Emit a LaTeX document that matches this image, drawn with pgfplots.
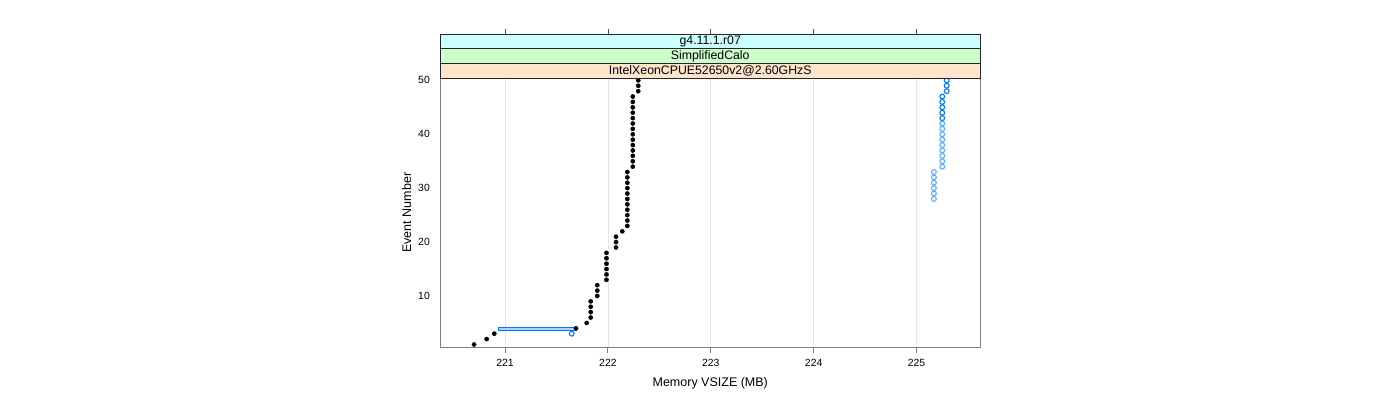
\documentclass[border=0pt]{standalone}
\usepackage{pgfplots}
\pgfplotsset{compat=1.18}
\usepackage{fontspec}
\setmainfont{Liberation Sans}
\definecolor{peach}{HTML}{FFE5CC}
\definecolor{mint}{HTML}{CCFFCC}
\definecolor{cyanstrip}{HTML}{CCFFFF}
\definecolor{dblue}{RGB}{0,120,255}
\definecolor{lblue}{RGB}{90,170,255}
\definecolor{boxblue}{RGB}{170,210,255}
\definecolor{axgrey}{RGB}{128,128,128}
\definecolor{gridgrey}{RGB}{230,230,230}
\begin{document}
\begin{tikzpicture}[x=1pt,y=1pt]
\path[use as bounding box] (0,0) rectangle (1400,400);
\begin{axis}[name=ax, at={(440pt,52.5pt)}, anchor=south west, scale only axis,
  width=540.5pt, height=269.5pt,
  xmin=220.368, xmax=225.622, ymin=0.44, ymax=50.44,
  xtick={221,222,223,224,225}, ytick={10,20,30,40,50},
  xtick pos=left, ytick pos=left,
  tick align=outside, major tick length=5pt,
  ytick style={draw=none},
  axis line style={axgrey, line width=0.8pt}, xtick style={axgrey, line width=0.8pt},
  xmajorgrids, grid style={gridgrey, line width=0.6pt},
  /pgf/number format/assume math mode=true,
  ticklabel style={font=\fontsize{10.4}{12}\selectfont, inner sep=0pt},
  xticklabel style={anchor=north, yshift=-6.8pt},
  yticklabel style={anchor=east, xshift=-5pt},
  xlabel={Memory VSIZE (MB)}, ylabel={Event Number},
  every axis x label/.style={at={([yshift=-36pt]rel axis cs:0.5,0)}, anchor=center, font=\fontsize{12.5}{14}\selectfont},
  every axis y label/.style={at={([xshift=-33.3pt]rel axis cs:0,0.5)}, anchor=center, rotate=90, font=\fontsize{12.5}{14}\selectfont},
]
% blue outlined bar
\addplot[draw=dblue, fill=boxblue, line width=0.7pt] coordinates {(220.937,3.69) (221.695,3.69) (221.695,4.19) (220.937,4.19)} -- cycle;
% black points
\addplot[only marks, mark=*, mark size=2.1pt, black] coordinates {
(220.699,1) (220.822,2) (220.896,3) (221.690,4) (221.794,5)
(221.833,6) (221.833,7) (221.833,8) (221.833,9)
(221.897,10) (221.897,11) (221.897,12)
(221.986,13) (221.986,14) (221.986,15) (221.986,16) (221.986,17) (221.986,18)
(222.079,19) (222.079,20) (222.079,21) (222.140,22)
(222.189,23) (222.189,24) (222.189,25) (222.189,26) (222.189,27) (222.189,28)
(222.189,29) (222.189,30) (222.189,31) (222.189,32) (222.189,33)
(222.242,34) (222.242,35) (222.242,36) (222.242,37) (222.242,38) (222.242,39)
(222.242,40) (222.242,41) (222.242,42) (222.242,43) (222.242,44) (222.242,45)
(222.242,46) (222.242,47)
(222.295,48) (222.295,49) (222.295,50)
};
% light blue open circles
\addplot[only marks, mark=o, mark size=2.4pt, lblue, mark options={line width=1.1pt}] coordinates {
(225.169,28) (225.169,29) (225.169,30) (225.169,31) (225.169,32) (225.169,33)
(225.250,34) (225.250,35) (225.250,36) (225.250,37) (225.250,38) (225.250,39)
(225.250,40) (225.250,41) (225.250,42)
};
% dark blue open circles
\addplot[only marks, mark=o, mark size=2.4pt, dblue, mark options={line width=1.1pt}] coordinates {
(221.648,3)
(225.250,43) (225.250,44) (225.250,45) (225.250,46) (225.250,47)
(225.293,48) (225.293,49) (225.293,50)
};
\end{axis}
% strips
\filldraw[fill=peach, draw=black!85, line width=0.7pt] (ax.north west) rectangle ([yshift=14.7pt]ax.north east);
\filldraw[fill=mint, draw=black!85, line width=0.7pt] ([yshift=14.7pt]ax.north west) rectangle ([yshift=29.4pt]ax.north east);
\filldraw[fill=cyanstrip, draw=black!85, line width=0.7pt] ([yshift=29.4pt]ax.north west) rectangle ([yshift=44.1pt]ax.north east);
\node[font=\fontsize{12.3}{14}\selectfont, inner sep=0pt] at ([yshift=7.35pt]ax.north) {IntelXeonCPUE52650v2@2.60GHzS};
\node[font=\fontsize{12.3}{14}\selectfont, inner sep=0pt] at ([yshift=22.05pt]ax.north) {SimplifiedCalo};
\node[font=\fontsize{12.3}{14}\selectfont, inner sep=0pt] at ([yshift=36.75pt]ax.north) {g4.11.1.r07};
% top ticks
\begin{axis}[at={(440pt,52.5pt)}, anchor=south west, scale only axis,
  width=540.5pt, height=313.6pt,
  xmin=220.368, xmax=225.622, ymin=0, ymax=1,
  axis line style={draw=none}, xtick={221,222,223,224,225}, xticklabels={},
  xtick pos=right, ytick=\empty, tick align=outside, major tick length=5pt,
  xtick style={black!70, line width=0.8pt}]
\end{axis}
\end{tikzpicture}
\end{document}
